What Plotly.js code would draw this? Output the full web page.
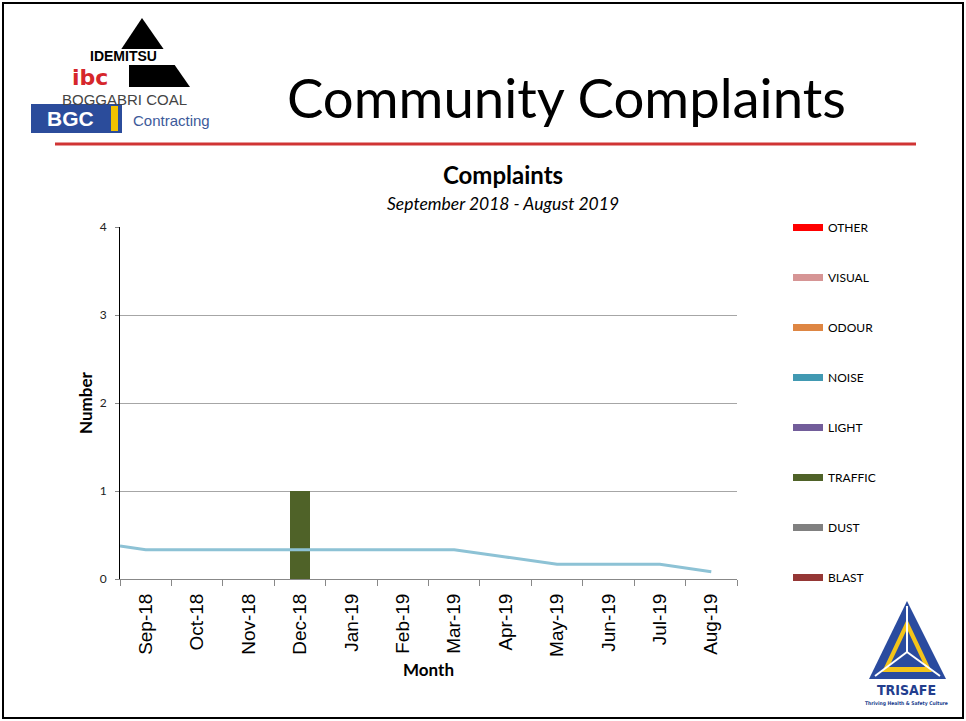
<!DOCTYPE html>
<html>
<head>
<meta charset="utf-8">
<script src="https://cdn.plot.ly/plotly-3.0.1.min.js"></script>
<style>html,body{margin:0;padding:0;background:#fff;}#chart{width:966px;height:721px;}</style>
</head>
<body>
<div id="chart"></div>
<script>
// ---- data ----
const months = ['Sep-18','Oct-18','Nov-18','Dec-18','Jan-19','Feb-19','Mar-19','Apr-19','May-19','Jun-19','Jul-19','Aug-19'];
const seriesNames = ['OTHER','VISUAL','ODOUR','NOISE','LIGHT','TRAFFIC','DUST','BLAST'];
const other   = [0,0,0,0,0,0,0,0,0,0,0,0];
const visual  = [0,0,0,0,0,0,0,0,0,0,0,0];
const odour   = [0,0,0,0,0,0,0,0,0,0,0,0];
const noise   = [0,0,0,0,0,0,0,0,0,0,0,0];
const light   = [0,0,0,0,0,0,0,0,0,0,0,0];
const traffic = [0,0,0,1,0,0,0,0,0,0,0,0];
const dust    = [0,0,0,0,0,0,0,0,0,0,0,0];
const blast   = [0,0,0,0,0,0,0,0,0,0,0,0];
// rolling average line (first point sits on the left edge of the plot)
const avgPos  = [-0.5,0,1,2,3,4,5,6,7,8,9,10,11];
const avgVals = [0.375,0.333,0.333,0.333,0.333,0.333,0.333,0.333,0.25,0.167,0.167,0.167,0.083];

// ---- styling ----
const colors = {OTHER:'#FF0000',VISUAL:'#D69595',ODOUR:'#DE8643',NOISE:'#4199B2',LIGHT:'#725D9A',TRAFFIC:'#4F6228',DUST:'#808080',BLAST:'#953735'};
const valuesByName = {OTHER:other,VISUAL:visual,ODOUR:odour,NOISE:noise,LIGHT:light,TRAFFIC:traffic,DUST:dust,BLAST:blast};
const pos = months.map((m,i)=>i);

const traces = [];
// stacked bars, bottom series first
seriesNames.slice().reverse().forEach(n=>{
  traces.push({type:'bar', x:pos, y:valuesByName[n], name:n, legendgroup:n, showlegend:false,
    marker:{color:colors[n], line:{width:0}}, hoverinfo:'x+y+name'});
});
// legend swatches (split across two stacked legend boxes)
seriesNames.forEach((n,i)=>{
  traces.push({type:'scatter', mode:'lines', x:[null], y:[null], name:n, legendgroup:n,
    legend: i<4 ? 'legend' : 'legend2',
    line:{color:colors[n], width:7}});
});
traces.push({type:'scatter', mode:'lines', x:avgPos, y:avgVals, showlegend:false,
  line:{color:'#8DC2D5', width:3}, hoverinfo:'skip'});

// pixel -> paper helpers for decorations
const L=120, R=737, T=227, B=579, W=R-L, H=B-T;
const fx = x => (x-L)/W;
const fy = y => (B-y)/H;
const poly = pts => 'M' + pts.map(p=>fx(p[0]).toFixed(5)+','+fy(p[1]).toFixed(5)).join('L') + 'Z';
const rect = (x0,y0,x1,y1,fill,line) => ({type:'rect', xref:'paper', yref:'paper', x0:fx(x0), x1:fx(x1), y0:fy(y0), y1:fy(y1), fillcolor:fill, line:line||{width:0}, layer:'above'});
const txt = (t,x,y,font,extra) => Object.assign({text:t, xref:'paper', yref:'paper', x:fx(x), y:fy(y), showarrow:false, xanchor:'center', yanchor:'middle', font:font}, extra||{});

const shapes = [
  // page frame
  {type:'rect', xref:'paper', yref:'paper', x0:fx(3), x1:fx(963), y0:fy(3), y1:fy(718), line:{color:'#000', width:2}, fillcolor:'rgba(0,0,0,0)', layer:'above'},
  // red rule under heading
  {type:'line', xref:'paper', yref:'paper', x0:fx(55), x1:fx(916), y0:fy(144), y1:fy(144), line:{color:'#D03434', width:3}},
  // Idemitsu triangle
  {type:'path', xref:'paper', yref:'paper', path:poly([[142,18],[190,87],[96,87]]), fillcolor:'#000', line:{width:0}},
  rect(70,49,178,65,'#fff'),
  rect(50,65,129,88,'#fff'),
  // BGC block
  rect(31,104,122,133,'#2B4C9B'),
  rect(111,106,118,131,'#F2C200'),
  // TRISAFE logo
  {type:'path', xref:'paper', yref:'paper', path:poly([[907,601],[869,679],[946,679]]), fillcolor:'#2A4B9F', line:{width:0}},
  {type:'path', xref:'paper', yref:'paper', path:poly([[907,619],[882,672],[932,672]]), fillcolor:'#F4C419', line:{width:0}},
  {type:'path', xref:'paper', yref:'paper', path:poly([[907,629],[889,667],[925,667]]), fillcolor:'#2A4B9F', line:{width:0}},
  {type:'line', xref:'paper', yref:'paper', x0:fx(907), y0:fy(652), x1:fx(907), y1:fy(606), line:{color:'#fff', width:2}},
  {type:'line', xref:'paper', yref:'paper', x0:fx(907), y0:fy(652), x1:fx(875), y1:fy(676), line:{color:'#fff', width:2}},
  {type:'line', xref:'paper', yref:'paper', x0:fx(907), y0:fy(652), x1:fx(940), y1:fy(676), line:{color:'#fff', width:2}}
];

const annotations = [
  txt('Community Complaints', 566, 97, {family:'Lato, sans-serif', size:54.5, color:'#000'}),
  txt('<i>September 2018 - August 2019</i>', 503, 203, {family:'Lato, sans-serif', size:17.5, color:'#000'}),
  txt('<b>IDEMITSU</b>', 123, 56, {family:'Liberation Sans, Arial, sans-serif', size:14, color:'#000'}),
  txt('<b>ibc</b>', 90, 77, {family:'DejaVu Sans, sans-serif', size:22, color:'#D6262B'}),
  txt('BOGGABRI COAL', 124, 99, {family:'Liberation Sans, Arial, sans-serif', size:15, color:'#444'}),
  txt('<b>BGC</b>', 70, 119, {family:'Liberation Sans, Arial, sans-serif', size:21, color:'#fff'}),
  txt('Contracting', 171, 120, {family:'Liberation Sans, Arial, sans-serif', size:15, color:'#3D5A9A'}),
  txt('<b>TRISAFE</b>', 906, 690, {family:'DejaVu Sans Condensed, DejaVu Sans, sans-serif', size:14, color:'#233E8E'}),
  txt('<b>Thriving Health & Safety Culture</b>', 906, 703, {family:'DejaVu Sans Condensed, DejaVu Sans, sans-serif', size:5, color:'#233E8E'})
];

const boundaries = pos.map(p=>p-0.5).concat([pos.length-0.5]);
const legendBase = {x:fx(788), xanchor:'left', yanchor:'top', traceorder:'grouped', tracegroupgap:31,
  font:{family:'Lato, sans-serif', size:12, color:'#000'}, bgcolor:'rgba(0,0,0,0)', itemwidth:30};

const layout = {
  width:966, height:721,
  margin:{l:L, r:966-R, t:T, b:721-B, pad:0},
  paper_bgcolor:'#fff', plot_bgcolor:'#fff',
  barmode:'stack', bargap:0.61,
  showlegend:true,
  title:{text:'<b>Complaints</b>', font:{family:'Lato, sans-serif', size:24, color:'#000'}, xref:'container', yref:'container', x:503/966, y:(721-176)/721, xanchor:'center', yanchor:'middle'},
  xaxis:{range:[-0.5, months.length-0.5], tickmode:'array', tickvals:pos, ticktext:months, tickangle:-90,
    tickfont:{family:'Liberation Sans, Arial, sans-serif', size:19, color:'#000'}, ticks:'', showline:true, linecolor:'#888', linewidth:1,
    showgrid:false, zeroline:false, ticklabelstandoff:6,
    minor:{tickmode:'array', tickvals:boundaries, ticks:'outside', ticklen:6, tickcolor:'#888', tickwidth:1, showgrid:false},
    title:{text:'<b>Month</b>', font:{family:'Lato, sans-serif', size:17, color:'#000'}, standoff:8}},
  yaxis:{range:[0,4], tickmode:'linear', tick0:0, dtick:1, ticks:'outside', ticklen:4, tickcolor:'#888',
    tickfont:{family:'Lato, sans-serif', size:12, color:'#222'}, showline:true, linecolor:'#000', linewidth:1,
    showgrid:true, gridcolor:'#A6A6A6', gridwidth:1, zeroline:false, ticklabelstandoff:6,
    title:{text:'<b>Number</b>', font:{family:'Lato, sans-serif', size:17, color:'#000'}, standoff:2}},
  legend: Object.assign({}, legendBase, {y:fy(213)}),
  legend2: Object.assign({}, legendBase, {y:fy(413)}),
  shapes:shapes, annotations:annotations
};

Plotly.newPlot('chart', traces, layout, {displayModeBar:false, staticPlot:true});
</script>
</body>
</html>
